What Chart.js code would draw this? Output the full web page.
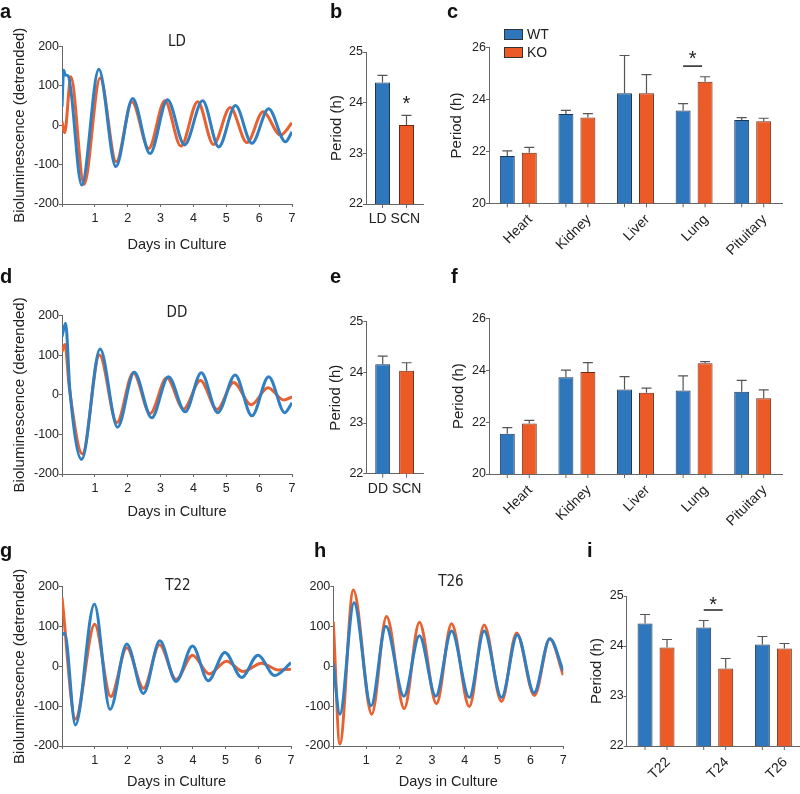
<!DOCTYPE html>
<html><head><meta charset="utf-8">
<script src="https://cdn.jsdelivr.net/npm/chart.js@4.4.1/dist/chart.umd.min.js"></script>
<style>
body{margin:0;width:800px;height:794px;overflow:hidden;position:relative;background:#fff;font-family:'Liberation Sans',Arial,sans-serif;color:#222}
canvas{position:absolute}
.lt{position:absolute;font:bold 20px/20px 'Liberation Sans',Arial,sans-serif;color:#111}
.tt{position:absolute;font:15px/15px 'Liberation Sans Narrow','DejaVu Sans Condensed','Liberation Sans',sans-serif;transform:translate(-50%,-50%);color:#222;white-space:nowrap}
.lg{position:absolute;width:17px;height:9px;border:1px solid #333}
.lgt{position:absolute;font:14px/14px 'Liberation Sans',Arial,sans-serif;color:#222}
</style></head>
<body>
<canvas id="ca" width="300" height="250" style="left:0;top:20px"></canvas>
<canvas id="cb" width="140" height="250" style="left:300px;top:20px"></canvas>
<canvas id="cc" width="360" height="250" style="left:440px;top:20px"></canvas>
<canvas id="cd" width="300" height="250" style="left:0;top:290px"></canvas>
<canvas id="ce" width="140" height="250" style="left:300px;top:290px"></canvas>
<canvas id="cf" width="360" height="250" style="left:440px;top:290px"></canvas>
<canvas id="cg" width="300" height="234" style="left:0;top:560px"></canvas>
<canvas id="ch" width="290" height="234" style="left:290px;top:560px"></canvas>
<canvas id="ci" width="230" height="234" style="left:580px;top:560px"></canvas>

<div class="lt" style="left:0;top:1px">a</div>
<div class="lt" style="left:330px;top:1px">b</div>
<div class="lt" style="left:447px;top:1px">c</div>
<div class="lt" style="left:0;top:266px">d</div>
<div class="lt" style="left:330px;top:266px">e</div>
<div class="lt" style="left:451px;top:266px">f</div>
<div class="lt" style="left:0;top:540px">g</div>
<div class="lt" style="left:314px;top:540px">h</div>
<div class="lt" style="left:587px;top:540px">i</div>

<div class="tt" style="left:177px;top:41px">LD</div>
<div class="tt" style="left:177px;top:312px">DD</div>
<div class="tt" style="left:178px;top:585px">T22</div>
<div class="tt" style="left:451px;top:581px">T26</div>

<div class="lg" style="left:504px;top:29px;background:#2f77bd"></div>
<div class="lgt" style="left:527px;top:27px">WT</div>
<div class="lg" style="left:504px;top:47px;background:#ec5a27"></div>
<div class="lgt" style="left:527px;top:45px">KO</div>

<script>
// ---------- line data (days, detrended bioluminescence) ----------
const aWTdays = [0, 0.05, 0.10, 0.19, 0.60, 1.12, 1.64, 2.15, 2.68, 3.21, 3.73, 4.28, 4.77, 5.28, 5.78, 6.29, 6.80, 7.0];
const aWTvals = [47, 140, 128, 125, -152, 142, -105, 68, -72, 65, -50, 62, -55, 50, -46, 42, -42, -17];
const aKOdays = [0, 0.08, 0.27, 0.67, 1.16, 1.65, 2.13, 2.64, 3.13, 3.62, 4.13, 4.61, 5.12, 5.63, 6.12, 6.65, 7.0];
const aKOvals = [9, -19, 123, -150, 120, -93, 60, -59, 62, -53, 60, -49, 45, -44, 34, -25, 6];

const dWTdays = [0, 0.11, 0.24, 0.60, 1.16, 1.69, 2.20, 2.73, 3.24, 3.75, 4.24, 4.74, 5.27, 5.78, 6.29, 6.78, 7.0];
const dWTvals = [147, 181, 12, -163, 116, -82, 57, -58, 46, -43, 56, -45, 50, -53, 46, -45, -20];
const dKOdays = [0, 0.09, 0.22, 0.62, 1.14, 1.67, 2.17, 2.68, 3.19, 3.70, 4.21, 4.72, 5.22, 5.76, 6.27, 6.75, 7.0];
const dKOvals = [109, 127, 20, -149, 101, -70, 56, -47, 43, -36, 36, -37, 31, -25, 18, -13, -5];

const gWTdays = [0, 0.08, 0.41, 0.99, 1.47, 1.98, 2.49, 2.99, 3.49, 3.99, 4.47, 4.98, 5.49, 5.99, 6.50, 7.0];
const gWTvals = [79, 83, -147, 156, -108, 56, -68, 64, -38, 51, -36, 35, -28, 28, -23, 9];
const gKOdays = [0, 0.41, 1.00, 1.49, 1.98, 2.49, 2.98, 3.49, 3.99, 4.50, 5.03, 5.54, 6.10, 6.61, 7.0];
const gKOvals = [173, -132, 106, -76, 47, -55, 54, -33, 28, -19, 13, -13, 8, -9, -7];

const hWTdays = [0, 0.20, 0.63, 1.15, 1.60, 2.15, 2.62, 3.12, 3.60, 4.14, 4.59, 5.12, 5.60, 6.11, 6.59, 7.0];
const hWTvals = [7, -120, 160, -99, 101, -75, 77, -75, 89, -78, 89, -78, 79, -66, 69, -12];
const hKOdays = [0, 0.20, 0.61, 1.17, 1.62, 2.16, 2.62, 3.14, 3.60, 4.14, 4.59, 5.12, 5.58, 6.12, 6.59, 7.0];
const hKOvals = [112, -195, 192, -120, 125, -106, 111, -94, 107, -101, 104, -88, 84, -73, 69, -22];

// ---------- bar data (period, h) ----------
const bCats = ['LD SCN'];
const bWT = [24.40], bWTerr = [0.14];
const bKO = [23.56], bKOerr = [0.19];

const tissueCats = ['Heart', 'Kidney', 'Liver', 'Lung', 'Pituitary'];
const cWT = [21.82, 23.44, 24.24, 23.58, 23.21], cWTerr = [0.20, 0.14, 1.46, 0.26, 0.09];
const cKO = [21.95, 23.31, 24.24, 24.69, 23.16], cKOerr = [0.21, 0.15, 0.72, 0.19, 0.12];

const eCats = ['DD SCN'];
const eWT = [24.16], eWTerr = [0.16];
const eKO = [24.03], eKOerr = [0.16];

const fWT = [21.55, 23.73, 23.26, 23.22, 23.17], fWTerr = [0.24, 0.27, 0.49, 0.56, 0.44];
const fKO = [21.95, 23.93, 23.13, 24.27, 22.92], fKOerr = [0.12, 0.36, 0.18, 0.06, 0.32];

const iCats = ['T22', 'T24', 'T26'];
const iWT = [24.45, 24.37, 24.03], iWTerr = [0.18, 0.14, 0.16];
const iKO = [23.97, 23.55, 23.95], iKOerr = [0.16, 0.20, 0.10];

// ---------- styling ----------
const LINE_BLUE = '#2f7fc3', LINE_ORANGE = '#ea6131';
const BAR_BLUE = '#2f77bd', BAR_ORANGE = '#ec5a27';
const BAR_BLUE_EDGE = '#1c3653', BAR_ORANGE_EDGE = '#6a2a12';
const AXIS = '#666', TXT = '#222';
const FAM = "'Liberation Sans', Arial, sans-serif";
Chart.defaults.font.family = FAM;
Chart.defaults.color = TXT;

const pts = (xs, ys) => xs.map((x, i) => ({x, y: ys[i]}));

function lineChart(id, wx, wy, kx, ky, L) {
  new Chart(document.getElementById(id), {
    type: 'line',
    data: { datasets: [
      { label: 'WT', data: pts(wx, wy), borderColor: LINE_BLUE, borderWidth: 3, pointRadius: 0, cubicInterpolationMode: 'monotone', fill: false },
      { label: 'KO', data: pts(kx, ky), borderColor: LINE_ORANGE, borderWidth: 3, pointRadius: 0, cubicInterpolationMode: 'monotone', fill: false }
    ]},
    options: {
      responsive: false, animation: false, devicePixelRatio: 1,
      layout: { padding: { left: 0, top: L.top, right: L.right, bottom: L.bottom } },
      plugins: { legend: { display: false }, tooltip: { enabled: false } },
      scales: {
        x: { type: 'linear', min: 0, max: 7,
             ticks: { stepSize: 1, callback: v => v === 0 ? '' : v, font: { size: 12.5 }, color: TXT, padding: 4, maxRotation: 0 },
             grid: { display: true, drawOnChartArea: false, drawTicks: true, tickLength: 3, color: AXIS },
             border: { display: true, color: AXIS, width: 1 },
             title: { display: true, text: 'Days in Culture', font: { size: 14.5 }, color: TXT, padding: { top: 0, bottom: L.xtp } },
             afterFit: s => { s.height = L.xh; } },
        y: { min: -200, max: 200,
             ticks: { stepSize: 100, font: { size: 12.5 }, color: TXT, padding: 0 },
             grid: { display: true, drawOnChartArea: false, drawTicks: true, tickLength: 3, color: AXIS },
             border: { display: true, color: AXIS, width: 1 },
             title: { display: L.ytitle, text: 'Bioluminescence (detrended)', font: { size: 15 }, color: TXT, padding: { top: L.ytp, bottom: 0 } },
             afterFit: s => { s.width = L.yw; } }
      }
    }
  });
}

const barExtras = {
  id: 'barExtras',
  afterDatasetsDraw(chart, args, opts) {
    const ctx = chart.ctx, y = chart.scales.y, ca = chart.chartArea;
    ctx.save();
    chart.data.datasets.forEach((ds, di) => {
      const meta = chart.getDatasetMeta(di);
      meta.data.forEach((el, i) => {
        const top = y.getPixelForValue(ds.data[i] + ds.errors[i]);
        ctx.strokeStyle = '#555'; ctx.lineWidth = 1.2;
        ctx.beginPath();
        ctx.moveTo(el.x, el.y); ctx.lineTo(el.x, top);
        ctx.moveTo(el.x - 5, top); ctx.lineTo(el.x + 5, top);
        ctx.stroke();
        ctx.strokeStyle = AXIS; ctx.lineWidth = 1;
        ctx.beginPath(); ctx.moveTo(el.x, ca.bottom); ctx.lineTo(el.x, ca.bottom + 4); ctx.stroke();
      });
    });
    const s = opts.sig;
    if (s) {
      const a = chart.getDatasetMeta(0).data[s.i], b = chart.getDatasetMeta(1).data[s.i];
      let sx;
      if (s.line !== null) {
        const ly = y.getPixelForValue(s.line);
        ctx.strokeStyle = '#222'; ctx.lineWidth = 1.5;
        ctx.beginPath(); ctx.moveTo(a.x, ly); ctx.lineTo(b.x - 3, ly); ctx.stroke();
        sx = (a.x + b.x - 3) / 2;
      } else {
        sx = b.x;
      }
      ctx.fillStyle = '#222'; ctx.font = '20px ' + FAM; ctx.textAlign = 'center'; ctx.textBaseline = 'alphabetic';
      ctx.fillText('*', sx, y.getPixelForValue(s.star) + 11.5);
    }
    ctx.restore();
  }
};

function barChart(id, cats, wt, wte, ko, koe, B) {
  new Chart(document.getElementById(id), {
    type: 'bar',
    data: { labels: cats, datasets: [
      { label: 'WT', data: wt, errors: wte, backgroundColor: BAR_BLUE, borderColor: BAR_BLUE_EDGE, borderWidth: 1, borderSkipped: false },
      { label: 'KO', data: ko, errors: koe, backgroundColor: BAR_ORANGE, borderColor: BAR_ORANGE_EDGE, borderWidth: 1, borderSkipped: false }
    ]},
    options: {
      responsive: false, animation: false, devicePixelRatio: 1,
      categoryPercentage: B.cp, barPercentage: B.bp,
      layout: { padding: { left: 0, top: B.top, right: B.right, bottom: B.bottom } },
      plugins: { legend: { display: false }, tooltip: { enabled: false }, barExtras: { sig: B.sig } },
      scales: {
        x: { grid: { display: false, drawTicks: false },
             border: { display: true, color: AXIS, width: 1 },
             ticks: { font: { size: 14 }, color: TXT, padding: B.tp, minRotation: B.rot, maxRotation: B.rot, autoSkip: false, labelOffset: B.lo },
             afterFit: s => { s.height = B.xh; } },
        y: { min: B.min, max: B.max,
             ticks: { stepSize: B.step, font: { size: 12.5 }, color: TXT, padding: 0 },
             grid: { display: true, drawOnChartArea: false, drawTicks: true, tickLength: 3, color: AXIS },
             border: { display: true, color: AXIS, width: 1 },
             title: { display: true, text: 'Period (h)', font: { size: 15 }, color: TXT, padding: { top: B.ytp, bottom: 0 } },
             afterFit: s => { s.width = B.yw; } }
      }
    },
    plugins: [barExtras]
  });
}

lineChart('ca', aWTdays, aWTvals, aKOdays, aKOvals, { top: 26.5, right: 8, bottom: 16, xh: 50, xtp: 0.3, yw: 62, ytp: 11, ytitle: true });
lineChart('cd', dWTdays, dWTvals, dKOdays, dKOvals, { top: 25.7, right: 8, bottom: 16, xh: 50, xtp: 3.6, yw: 62, ytp: 11, ytitle: true });
lineChart('cg', gWTdays, gWTvals, gKOdays, gKOvals, { top: 26.7, right: 9, bottom: 3, xh: 45, xtp: 0, yw: 62, ytp: 11, ytitle: true });
lineChart('ch', hWTdays, hWTvals, hKOdays, hKOvals, { top: 26.7, right: 16.7, bottom: 3, xh: 45, xtp: 0, yw: 43.3, ytp: 0, ytitle: false });

barChart('cb', bCats, bWT, bWTerr, bKO, bKOerr, { top: 32, right: 17, bottom: 26, xh: 40, yw: 66, ytp: 28, min: 22, max: 25, step: 1, cp: 0.842, bp: 0.625, rot: 0, lo: 0, tp: 7, sig: { i: 0, line: null, star: 24.09 } });
barChart('cc', tissueCats, cWT, cWTerr, cKO, cKOerr, { top: 27.7, right: 18, bottom: 6.7, xh: 60, yw: 49, ytp: 8, min: 20, max: 26, step: 2, cp: 0.75, bp: 0.68, rot: 45, lo: 12, tp: 8, sig: { i: 3, line: 25.29, star: 25.76 } });
barChart('ce', eCats, eWT, eWTerr, eKO, eKOerr, { top: 31.7, right: 17, bottom: 26.3, xh: 40, yw: 66.3, ytp: 26.5, min: 22, max: 25, step: 1, cp: 0.842, bp: 0.625, rot: 0, lo: 0, tp: 7, sig: null });
barChart('cf', tissueCats, fWT, fWTerr, fKO, fKOerr, { top: 28.3, right: 18, bottom: 6, xh: 60, yw: 49, ytp: 10, min: 20, max: 26, step: 2, cp: 0.75, bp: 0.68, rot: 45, lo: 12, tp: 8, sig: null });
barChart('ci', iCats, iWT, iWTerr, iKO, iKOerr, { top: 36, right: 7.3, bottom: 3, xh: 45, yw: 46.7, ytp: 7.5, min: 22, max: 25, step: 1, cp: 0.75, bp: 0.68, rot: 45, lo: 12, tp: 8, sig: { i: 1, line: 24.72, star: 24.94 } });
</script>
</body></html>
